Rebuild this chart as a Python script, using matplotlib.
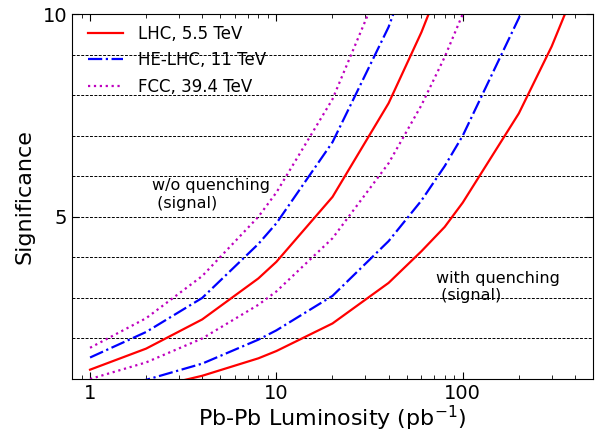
import matplotlib
matplotlib.use("Agg")
import matplotlib.pyplot as plt
from matplotlib.ticker import FixedLocator, NullFormatter

# integrated luminosity points (pb^-1)
lumi = [1, 2, 4, 8, 10, 20, 40, 60, 80, 100, 200, 300, 400]

# significance (values above 10 are extrapolated beyond the frame)
lhc_noq = [1.23, 1.75, 2.47, 3.48, 3.89, 5.49, 7.80, 9.55, 11.0, 12.3, 17.4, 21.3, 24.6]
lhc_q = [0.53, 0.75, 1.08, 1.51, 1.69, 2.37, 3.37, 4.15, 4.75, 5.35, 7.55, 9.2, 10.6]
he_noq = [1.53, 2.16, 3.0, 4.33, 4.84, 6.84, 9.68, 11.9, 13.7, 15.3, 21.6, 26.5, 30.6]
he_q = [0.69, 0.98, 1.38, 1.97, 2.2, 3.05, 4.4, 5.4, 6.25, 7.0, 9.9, 12.1, 14.0]
fcc_noq = [1.77, 2.5, 3.54, 5.0, 5.6, 7.9, 11.2, 13.7, 15.8, 17.7, 25.0, 30.7, 35.4]
fcc_q = [1.0, 1.41, 2.0, 2.83, 3.16, 4.47, 6.32, 7.75, 8.94, 10.0, 14.1, 17.3, 20.0]

fig = plt.figure(figsize=(5.97, 4.34), dpi=100)
ax = fig.add_axes([0.1206, 0.1267, 0.8727, 0.841])

ax.plot(lumi, lhc_noq, color='r', lw=1.6, label='LHC, 5.5 TeV')
ax.plot(lumi, he_noq, color='b', lw=1.6, linestyle='-.', label='HE-LHC, 11 TeV')
ax.plot(lumi, fcc_noq, color='m', lw=1.6, linestyle=':', label='FCC, 39.4 TeV')
ax.plot(lumi, lhc_q, color='r', lw=1.6)
ax.plot(lumi, he_q, color='b', lw=1.6, linestyle='-.')
ax.plot(lumi, fcc_q, color='m', lw=1.6, linestyle=':')

for yy in range(2, 10):
    ax.axhline(yy, color='k', lw=0.7, linestyle='--', dashes=(3, 1.5), zorder=0)

ax.set_xscale('log')
ax.set_xlim(0.8, 500)
ax.set_ylim(1, 10)
ax.set_yticks([5, 10])
ax.yaxis.set_minor_locator(FixedLocator([]))
ax.set_xticks([1, 10, 100])
ax.set_xticklabels(['1', '10', '100'])
ax.xaxis.set_minor_formatter(NullFormatter())
ax.tick_params(which='both', direction='in', top=True, right=True, labelsize=14)
ax.tick_params(which='major', length=5)
ax.tick_params(which='minor', length=3)

ax.set_xlabel('Pb-Pb Luminosity (pb$^{-1}$)', fontsize=16, labelpad=1)
ax.set_ylabel('Significance', fontsize=16, labelpad=6)

ax.text(2.15, 5.55, 'w/o quenching\n (signal)', fontsize=11.5, va='center', ha='left')
ax.text(72, 3.27, 'with quenching\n (signal)', fontsize=11.5, va='center', ha='left')

ax.legend(loc='upper left', bbox_to_anchor=(0.01, 1.0), frameon=False, fontsize=12,
          handlelength=2.1, handletextpad=0.9, borderaxespad=0.25)

fig.savefig('out.png', dpi=100)
